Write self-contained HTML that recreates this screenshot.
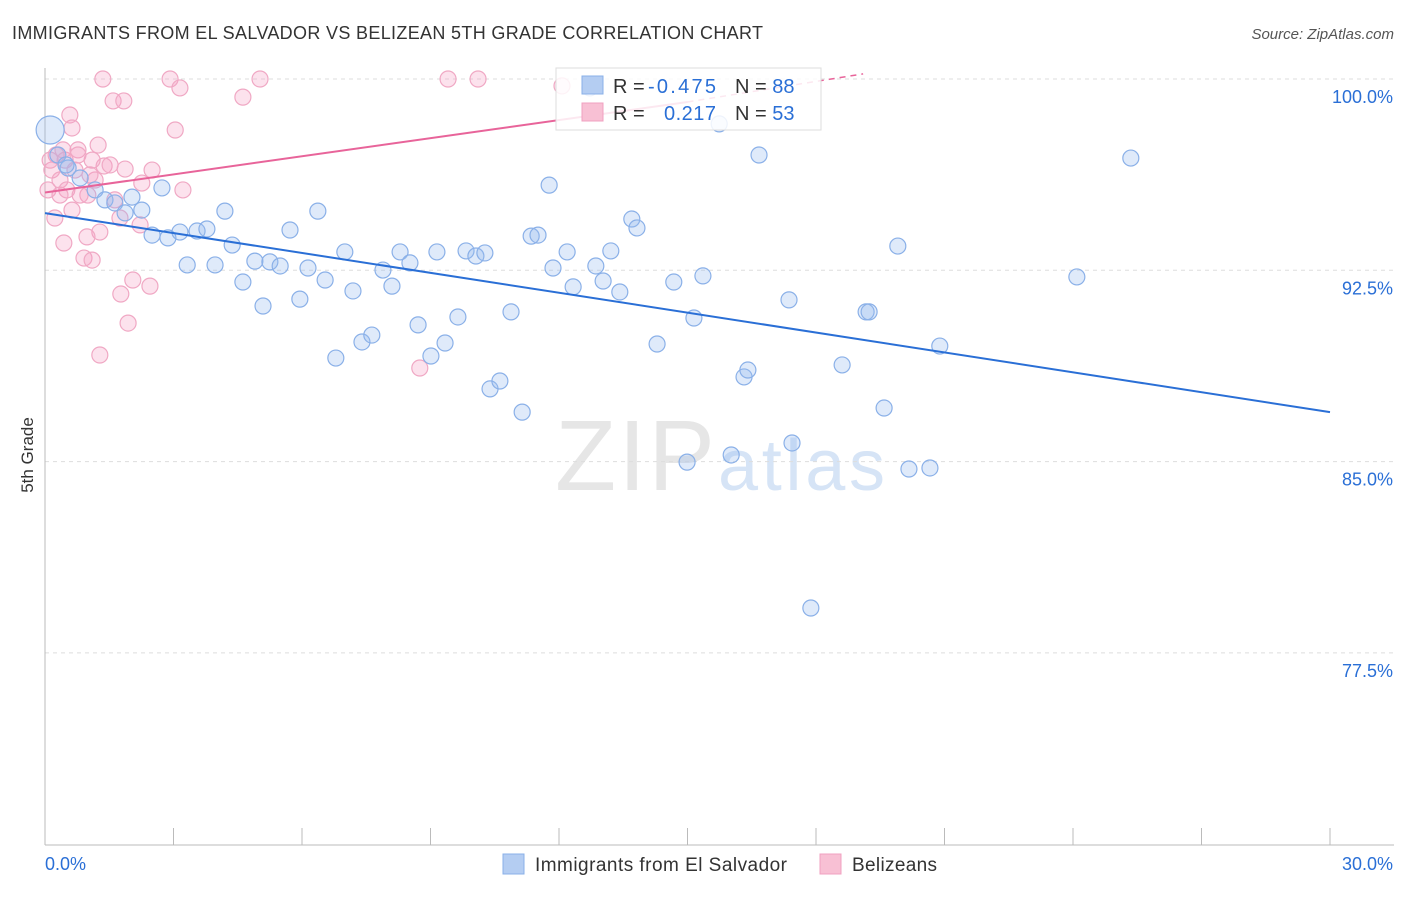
<!DOCTYPE html>
<html><head><meta charset="utf-8"><style>
body{margin:0;background:#fff;font-family:"Liberation Sans",sans-serif}
svg text{font-family:"Liberation Sans",sans-serif}
</style></head><body>
<svg id="chart" width="1406" height="892" xmlns="http://www.w3.org/2000/svg">
<text x="12" y="39" font-size="18" fill="#333" textLength="751">IMMIGRANTS FROM EL SALVADOR VS BELIZEAN 5TH GRADE CORRELATION CHART</text>
<text x="1394" y="39" font-size="15" fill="#555" text-anchor="end" font-style="italic">Source: ZipAtlas.com</text>
<text x="0" y="0" transform="translate(33,455) rotate(-90)" font-size="17" fill="#333" text-anchor="middle">5th Grade</text>
<text x="555" y="490" font-size="100" fill="#e6e6e6" textLength="160" font-family="Liberation Serif">ZIP</text>
<text x="718" y="490" font-size="72" fill="#d6e4f6" textLength="167">atlas</text>
<g id="grid"></g><g id="axes"></g><g id="pts"></g><g id="lines"></g>
<g>
<rect x="556" y="68" width="265" height="62" fill="#fff" fill-opacity="0.85" stroke="#ddd"/>
<rect x="582" y="76" width="21" height="18" fill="#b4cdf2" stroke="#8ab0e8"/>
<rect x="582" y="103" width="21" height="18" fill="#f8c0d4" stroke="#f0a0c0"/>
<text x="613" y="93" font-size="20" fill="#333">R = <tspan fill="#2a6fd6" x="648" textLength="68">-0.475</tspan></text>
<text x="735" y="93" font-size="20" fill="#333">N = <tspan fill="#2a6fd6">88</tspan></text>
<text x="613" y="120" font-size="20" fill="#333">R = <tspan fill="#2a6fd6" x="664" textLength="52">0.217</tspan></text>
<text x="735" y="120" font-size="20" fill="#333">N = <tspan fill="#2a6fd6">53</tspan></text>
</g>
<g>
<rect x="503" y="854" width="21" height="20" fill="#b4cdf2" stroke="#8ab0e8"/>
<text x="535" y="871" font-size="19" fill="#333" textLength="252">Immigrants from El Salvador</text>
<rect x="820" y="854" width="21" height="20" fill="#f8c0d4" stroke="#f0a0c0"/>
<text x="852" y="871" font-size="19" fill="#333" textLength="85">Belizeans</text>
</g>
</svg>
<script>
const yTicks=[100,92.5,85,77.5];
const yTickLabels=["100.0%","92.5%","85.0%","77.5%"];
const xTickVals=[0,3,6,9,12,15,18,21,24,27,30];
const bluePx=[[50,130],[58,155],[68,168],[80,178],[95,190],[105,200],[115,203],[125,213],[132,197],[142,210],[152,235],[162,188],[168,238],[180,232],[187,265],[197,231],[207,229],[215,265],[225,211],[232,245],[243,282],[255,261],[263,306],[270,262],[280,266],[290,230],[300,299],[308,268],[318,211],[325,280],[336,358],[345,252],[353,291],[362,342],[372,335],[383,270],[392,286],[400,252],[410,263],[418,325],[431,356],[437,252],[445,343],[458,317],[466,251],[476,256],[485,253],[490,389],[500,381],[511,312],[522,412],[531,236],[538,235],[549,185],[553,268],[567,252],[573,287],[596,266],[603,281],[611,251],[620,292],[632,219],[637,228],[657,344],[674,282],[687,462],[694,318],[703,276],[719,124],[731,455],[744,377],[748,370],[759,155],[789,300],[792,443],[811,608],[842,365],[866,312],[869,312],[884,408],[898,246],[909,469],[930,468],[940,346],[1077,277],[1131,158],[590,88],[66,165]];
const pinkPx=[[103,79],[170,79],[180,88],[260,79],[448,79],[478,79],[562,86],[113,101],[124,101],[243,97],[70,115],[72,128],[175,130],[98,145],[78,150],[56,155],[65,160],[104,166],[92,160],[52,170],[125,169],[152,170],[60,180],[142,183],[95,180],[183,190],[88,195],[115,200],[72,210],[55,218],[120,218],[140,225],[100,232],[64,243],[87,237],[84,258],[92,260],[133,280],[150,286],[121,294],[128,323],[100,355],[420,368],[67,190],[80,195],[50,160],[48,190],[110,165],[60,195],[75,170],[90,175],[63,150],[78,155]];
const blueX=bluePx.map(p=>+((p[0]-45)*30/1285).toFixed(2));
const blueY=bluePx.map(p=>+(100-(p[1]-79)*7.5/191.3).toFixed(2));
const pinkX=pinkPx.map(p=>+((p[0]-45)*30/1285).toFixed(2));
const pinkY=pinkPx.map(p=>+(100-(p[1]-79)*7.5/191.3).toFixed(2));
const blueTrend=[[0,94.74],[30,86.94]];
const pinkTrend=[[0,95.55],[15,99.1],[19.1,100.2]];
const X=v=>45+v/30*1285, Y=v=>79+(100-v)/7.5*191.3;
const NS="http://www.w3.org/2000/svg";
function mk(t,a,p){const e=document.createElementNS(NS,t);for(const k in a)e.setAttribute(k,a[k]);p.appendChild(e);return e;}
const g=document.getElementById('grid'),ax=document.getElementById('axes');
yTicks.forEach((v,i)=>{
 const l=mk('line',{x1:45,x2:1394,y1:Y(v),y2:Y(v),stroke:'#ddd','stroke-dasharray':'4,4'},g);
 
 
 const t=mk('text',{x:1393,y:Y(v)+24,'font-size':18,fill:'#2a6fd6','text-anchor':'end'},g);
 t.textContent=yTickLabels[i];
 
 
});
mk('line',{x1:45,x2:45,y1:68,y2:845,stroke:'#bbb'},ax);
mk('line',{x1:45,x2:1394,y1:845,y2:845,stroke:'#bbb'},ax);
xTickVals.forEach(v=>{const l=mk('line',{x1:X(v),x2:X(v),y1:828,y2:845,stroke:'#bbb'},ax);
 
 });
let t=mk('text',{x:45,y:870,'font-size':18,fill:'#2a6fd6'},ax);t.textContent='0.0%';


t=mk('text',{x:1393,y:870,'font-size':18,fill:'#2a6fd6','text-anchor':'end'},ax);t.textContent='30.0%';


const pg=document.getElementById('pts');
pinkX.forEach((x,i)=>{const c=mk('circle',{cx:X(x),cy:Y(pinkY[i]),r:8,fill:'rgba(245,160,195,0.3)',stroke:'#f0a8c4','stroke-width':1.2},pg);
 
 });
blueX.forEach((x,i)=>{const c=mk('circle',{cx:X(x),cy:Y(blueY[i]),r:i===0?14:8,fill:'rgba(150,185,240,0.3)',stroke:'#8ab0e8','stroke-width':1.2},pg);
 
 });
const lg=document.getElementById('lines');
let l=mk('line',{x1:X(blueTrend[0][0]),y1:Y(blueTrend[0][1]),x2:X(blueTrend[1][0]),y2:Y(blueTrend[1][1]),stroke:'#2a6fd6','stroke-width':2},lg);


l=mk('line',{x1:X(pinkTrend[0][0]),y1:Y(pinkTrend[0][1]),x2:X(pinkTrend[1][0]),y2:Y(pinkTrend[1][1]),stroke:'#e8649a','stroke-width':2},lg);


l=mk('line',{x1:X(pinkTrend[1][0]),y1:Y(pinkTrend[1][1]),x2:X(pinkTrend[2][0]),y2:Y(pinkTrend[2][1]),stroke:'#e8649a','stroke-width':1.5,'stroke-dasharray':'6,5'},lg);


</script>
</body></html>
